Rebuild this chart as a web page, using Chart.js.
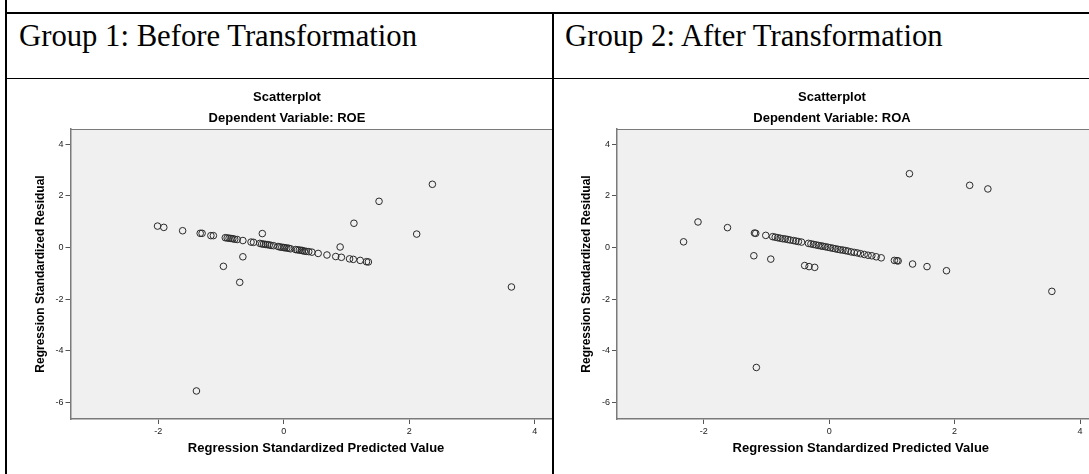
<!DOCTYPE html>
<html><head><meta charset="utf-8">
<script src="https://cdn.jsdelivr.net/npm/chart.js@4.4.1/dist/chart.umd.min.js"></script>
<style>
html,body{margin:0;padding:0;width:1089px;height:474px;overflow:hidden;background:#fff;}
.ln{position:absolute;background:#000;}
.hdr{position:absolute;font-family:"Liberation Serif","Times New Roman",serif;font-size:30.7px;line-height:30px;color:#000;white-space:nowrap;}
.cell{position:absolute;overflow:hidden;}
.cell canvas{position:absolute;}
</style></head><body>
<div class="ln" style="left:5px;top:0;width:2px;height:474px"></div>
<div class="ln" style="left:5px;top:12px;width:1084px;height:2px"></div>
<div class="ln" style="left:5px;top:78px;width:1084px;height:1px"></div>
<div class="ln" style="left:552px;top:12px;width:2px;height:462px"></div>
<div class="hdr" style="left:19px;top:21px">Group 1: Before Transformation</div>
<div class="hdr" style="left:565px;top:21px">Group 2: After Transformation</div>
<div class="cell" style="left:7px;top:79px;width:545px;height:395px"><canvas id="c1" width="558" height="394" style="left:1px;top:1px;width:558px;height:394px"></canvas></div>
<div class="cell" style="left:554px;top:79px;width:535px;height:395px"><canvas id="c2" width="554" height="394" style="left:1px;top:1px;width:554px;height:394px"></canvas></div>
<script>
// ---- data ----
const xTicks = [-2, 0, 2, 4];
const yTicks = [-6, -4, -2, 0, 2, 4];

// Group 1 (ROE): standardized predicted value / standardized residual
const roePred = [-2.01,-1.91,-1.61,-1.33,-1.30,-1.16,-1.12,-0.93,-0.90,-0.87,-0.84,-0.81,-0.78,-0.74,-0.65,-0.52,-0.48,
  -0.38,-0.35,-0.32,-0.29,-0.26,-0.23,-0.20,-0.16,-0.09,-0.06,-0.03,0.00,0.02,0.05,0.08,0.11,
  0.19,0.22,0.25,0.28,0.30,0.33,0.36,0.40,0.45,0.55,0.69,0.83,0.92,1.05,1.11,1.22,1.32,1.35,
  -0.34,0.90,1.12,1.52,2.37,2.12,3.63,-0.96,-0.65,-0.70,-1.39];
const roeResid = [0.83,0.78,0.65,0.55,0.55,0.46,0.46,0.38,0.37,0.36,0.35,0.34,0.32,0.31,0.27,0.21,0.20,
  0.16,0.14,0.13,0.12,0.11,0.10,0.08,0.07,0.04,0.02,0.01,0.00,-0.01,-0.02,-0.03,-0.05,
  -0.08,-0.09,-0.10,-0.11,-0.12,-0.14,-0.15,-0.16,-0.18,-0.23,-0.29,-0.35,-0.38,-0.44,-0.46,-0.50,-0.55,-0.56,
  0.54,0.02,0.94,1.79,2.45,0.52,-1.53,-0.73,-0.36,-1.35,-5.56];

// Group 2 (ROA)
const roaPred = [-1.19,-1.17,-1.01,-0.90,-0.86,-0.82,-0.78,-0.74,-0.70,-0.66,-0.62,-0.57,-0.53,-0.49,-0.44,
  -0.33,-0.29,-0.25,-0.21,-0.17,-0.13,-0.10,-0.06,-0.02,0.02,0.06,0.10,0.14,0.18,0.22,0.26,0.30,0.35,0.40,0.45,
  0.50,0.56,0.62,0.68,0.75,0.83,1.04,1.08,1.10,1.33,1.56,1.87,
  -2.32,-2.09,-1.62,-1.20,-0.93,-0.39,-0.32,-0.23,1.28,2.24,2.53,3.55,-1.16];
const roaResid = [0.56,0.55,0.47,0.42,0.40,0.38,0.36,0.34,0.33,0.31,0.29,0.27,0.25,0.23,0.21,
  0.16,0.14,0.12,0.10,0.08,0.06,0.05,0.03,0.01,-0.01,-0.03,-0.05,-0.07,-0.09,-0.10,-0.12,-0.14,-0.17,-0.19,-0.21,
  -0.24,-0.27,-0.30,-0.32,-0.36,-0.40,-0.50,-0.51,-0.52,-0.64,-0.74,-0.90,
  0.22,0.99,0.77,-0.32,-0.45,-0.70,-0.74,-0.77,2.86,2.41,2.27,-1.70,-4.65];

const titleText = 'Scatterplot';
const xTitle = 'Regression Standardized Predicted Value';
const yTitle = 'Regression Standardized Residual';

// ---- chart ----
const FONT = '"Liberation Sans", Arial, sans-serif';
const plotBg = {
  id: 'plotBg',
  beforeDraw(chart) {
    const {ctx, chartArea: a} = chart;
    ctx.save();
    ctx.fillStyle = '#f0f0f0';
    ctx.fillRect(a.left, a.top, a.right - a.left, a.bottom - a.top);
    ctx.strokeStyle = '#7a7a7a';
    ctx.lineWidth = 1;
    ctx.beginPath();
    ctx.moveTo(a.left, a.top + 0.5);
    ctx.lineTo(a.right, a.top + 0.5);
    ctx.stroke();
    ctx.restore();
  }
};

function makeChart(id, xs, ys, subtitle, xr, yTitlePad) {
  const pts = xs.map((x, i) => ({x, y: ys[i]}));
  return new Chart(document.getElementById(id), {
    type: 'scatter',
    data: {datasets: [{data: pts, pointStyle: 'circle', pointRadius: 3.3, pointHoverRadius: 3.3,
      borderColor: '#2a2a2a', borderWidth: 1, backgroundColor: 'rgba(0,0,0,0)'}]},
    options: {
      responsive: false, animation: false, events: [],
      layout: {padding: 0},
      plugins: {
        legend: {display: false}, tooltip: {enabled: false},
        title: {display: true, text: titleText, color: '#000',
          font: {family: FONT, size: 13, weight: 'bold'}, padding: {top: 9.2, bottom: 0}},
        subtitle: {display: true, text: subtitle, color: '#000',
          font: {family: FONT, size: 13, weight: 'bold'}, padding: {top: 5.4, bottom: 3.2}}
      },
      scales: {
        x: {type: 'linear', min: xr[0], max: xr[1],
          afterBuildTicks: s => { s.ticks = xTicks.map(v => ({value: v})); },
          afterFit: s => { s.height = 55; },
          grid: {drawOnChartArea: false, drawTicks: true, tickLength: 5, color: '#555', lineWidth: 1},
          border: {display: true, color: '#7a7a7a', width: 1.5},
          ticks: {color: '#222', padding: 2, font: {family: FONT, size: 9}, maxRotation: 0},
          title: {display: true, text: xTitle, color: '#000',
            font: {family: FONT, size: 13, weight: 'bold'}, padding: {top: 0, bottom: 18.2}}
        },
        y: {type: 'linear', min: -6.647, max: 4.593,
          afterBuildTicks: s => { s.ticks = yTicks.map(v => ({value: v})); },
          afterFit: s => { s.width = xr[2]; },
          grid: {drawOnChartArea: false, drawTicks: true, tickLength: 5, color: '#555', lineWidth: 1},
          border: {display: true, color: '#7a7a7a', width: 1.5},
          ticks: {color: '#222', padding: 2, font: {family: FONT, size: 9}},
          title: {display: true, text: yTitle, color: '#000',
            font: {family: FONT, size: 12, weight: 'bold'}, padding: {top: yTitlePad, bottom: 0}}
        }
      }
    },
    plugins: [plotBg]
  });
}

makeChart('c1', roePred, roeResid, 'Dependent Variable: ROE', [-3.397, 4.431, 62.5], 25.5);
makeChart('c2', roaPred, roaResid, 'Dependent Variable: ROA', [-3.381, 4.392, 62], 24);
</script>
</body></html>
